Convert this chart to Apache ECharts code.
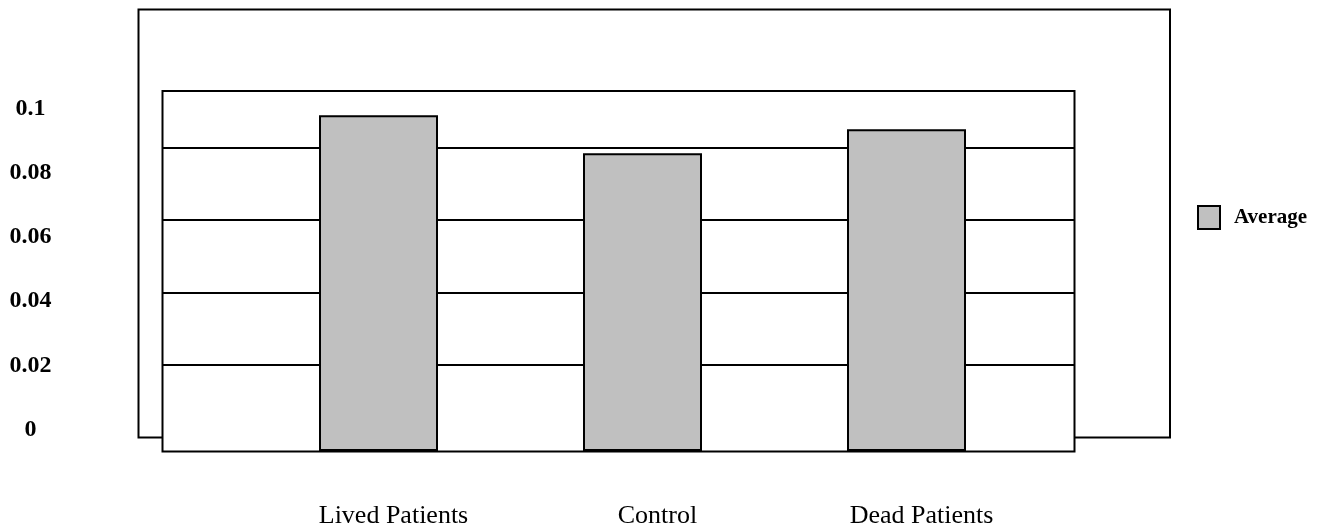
<!DOCTYPE html>
<html>
<head>
<meta charset="utf-8">
<script src="https://cdn.jsdelivr.net/npm/echarts@6/dist/echarts.min.js"></script>
<style>
  html, body { margin: 0; padding: 0; background: #fff; }
  #chart { width: 1326px; height: 529px; }
</style>
</head>
<body>
<div id="chart"></div>
<script>
const categories = ['Lived Patients', 'Control', 'Dead Patients'];
const averages = [0.098, 0.0862, 0.0937];
const tickValues = [0, 0.02, 0.04, 0.06, 0.08, 0.1];
const seriesName = 'Average';

const serif = 'Liberation Serif, Times New Roman, serif';
const chart = echarts.init(document.getElementById('chart'));

chart.setOption({
  animation: false,
  backgroundColor: '#fff',
  graphic: [
    // outer frame
    { type: 'rect', z: -2, shape: { x: 138.5, y: 9.5, width: 1031.5, height: 428 },
      style: { fill: 'none', stroke: '#000', lineWidth: 2 } },
    // plot box
    { type: 'rect', z: -1, shape: { x: 162.5, y: 91, width: 912, height: 360.5 },
      style: { fill: '#fff', stroke: '#000', lineWidth: 2 } }
  ],
  legend: {
    data: [seriesName],
    left: 1192, top: 200,
    icon: 'rect',
    itemWidth: 22, itemHeight: 23, itemGap: 14,
    textStyle: { fontFamily: serif, fontWeight: 'bold', fontSize: 21, color: '#000', padding: [0, 0, 0, 9] }
  },
  grid: [
    { left: 246.5, width: 792, top: 91, height: 360.5 },
    { left: 162.5, width: 912, top: 75.3, height: 361.7 }
  ],
  xAxis: [
    {
      gridIndex: 0, type: 'category', data: categories,
      axisLine: { show: false }, axisTick: { show: false },
      axisLabel: { fontFamily: serif, fontSize: 26, color: '#000', margin: 52, padding: [0, 0, 0, 30] }
    },
    { gridIndex: 1, type: 'value', show: false }
  ],
  yAxis: [
    {
      gridIndex: 0, type: 'value', min: -0.0067, max: 0.1056, startValue: -0.0067,
      splitLine: { show: false }, axisLine: { show: false },
      axisTick: { show: false },
      axisLabel: {
        customValues: tickValues, align: 'center', margin: 216,
        fontFamily: serif, fontWeight: 'bold', fontSize: 24, color: '#000'
      }
    },
    {
      gridIndex: 1, type: 'value', min: 0, max: 0.1, interval: 0.02,
      axisLine: { show: false }, axisTick: { show: false }, axisLabel: { show: false },
      splitLine: { show: true, showMinLine: false, showMaxLine: false,
        lineStyle: { color: '#000', width: 2 } }
    }
  ],
  series: [{
    name: seriesName, type: 'bar',
    xAxisIndex: 0, yAxisIndex: 0,
    data: averages,
    barWidth: 119,
    itemStyle: { color: '#c0c0c0', borderColor: '#000', borderWidth: 2 }
  }]
});
</script>
</body>
</html>
